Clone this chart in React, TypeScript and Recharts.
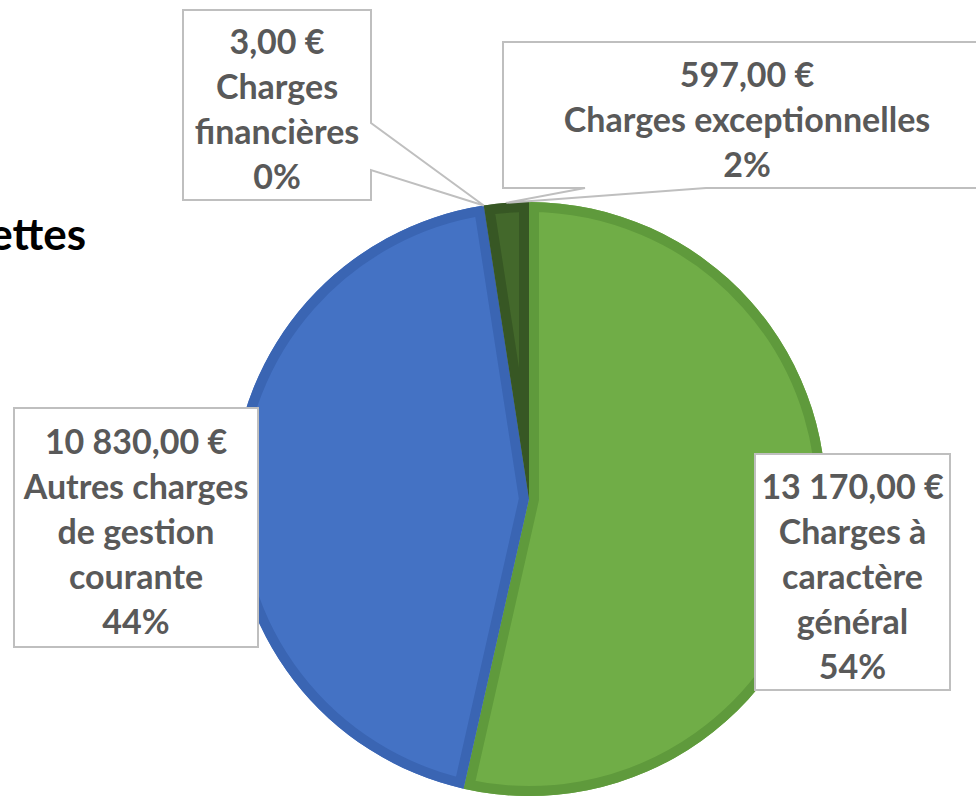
import { PieChart, Pie, Cell, Sector } from 'recharts';

const NAMES = [
  'Charges à caractère général',
  'Autres charges de gestion courante',
  'Charges financières',
  'Charges exceptionnelles',
];
const AMOUNTS = [13170, 10830, 3, 597];
const NAME_LINES = [
  ['Charges à', 'caractère', 'général'],
  ['Autres charges', 'de gestion', 'courante'],
  ['Charges', 'financières'],
  ['Charges exceptionnelles'],
];
const FILLS = ['#70AD47', '#4472C4', '#264478', '#43682B'];
const BORDERS = ['#5F9A3C', '#3A65B3', '#1F3A66', '#375724'];

// hand placed callout boxes, like the Excel original
const BOXES = [
  { x: 755, y: 454, w: 195, h: 236 },
  { x: 14, y: 408, w: 244, h: 239 },
  { x: 183, y: 10, w: 188, h: 190, pointer: 'right', p1: 123, p2: 170 },
  { x: 503, y: 42, w: 480, h: 146, pointer: 'bottom', p1: 585, p2: 706, tx: 747 },
];

const TEXT_COLOR = '#595959';
const FONT = 'Lato, "Open Sans", sans-serif';
const RAD = Math.PI / 180;
const LINE_H = 45;

const data = NAMES.map((name, i) => ({ name, value: AMOUNTS[i] }));

function euro(v: number) {
  const [int, dec] = v.toFixed(2).split('.');
  return int.replace(/\B(?=(\d{3})+(?!\d))/g, ' ') + ',' + dec + ' €';
}

function renderLabel(props: any) {
  const { cx, cy, outerRadius, startAngle, endAngle, midAngle, percent, value, index } = props;
  const box: any = BOXES[index];
  const tx = cx + outerRadius * Math.cos(-midAngle * RAD);
  const ty = cy + outerRadius * Math.sin(-midAngle * RAD);
  const { x, y, w, h } = box;

  let d = `M${x},${y} H${x + w} V${y + h} H${x} Z`;
  if (box.pointer === 'right') {
    d = `M${x},${y} H${x + w} V${box.p1} L${tx},${ty} L${x + w},${box.p2} V${y + h} H${x} Z`;
  } else if (box.pointer === 'bottom') {
    d = `M${x},${y} H${x + w} V${y + h} H${box.p2} L${tx},${ty} L${box.p1},${y + h} H${x} Z`;
  }

  const lines = [euro(value), ...NAME_LINES[index], `${Math.round(percent * 100)}%`];
  const first = y + h / 2 - ((lines.length - 1) * LINE_H) / 2 + 3;
  const textX = box.tx ?? x + w / 2;

  return (
    <g key={`lbl-${index}`}>
      <clipPath id={`sclip-${index}`}>
        <Sector cx={cx} cy={cy} innerRadius={0} outerRadius={outerRadius} startAngle={startAngle} endAngle={endAngle} />
      </clipPath>
      <Sector
        cx={cx}
        cy={cy}
        innerRadius={0}
        outerRadius={outerRadius}
        startAngle={startAngle}
        endAngle={endAngle}
        fill="none"
        stroke={BORDERS[index]}
        strokeWidth={20}
        clipPath={`url(#sclip-${index})`}
      />
      <path d={d} fill="#FFFFFF" stroke="#BFBFBF" strokeWidth={2} />
      {lines.map((t, i) => (
        <text
          key={i}
          x={textX}
          y={first + i * LINE_H}
          textAnchor="middle"
          dominantBaseline="central"
          fill={TEXT_COLOR}
          fontFamily={FONT}
          fontWeight={700}
          fontSize={34}
        >
          {t}
        </text>
      ))}
    </g>
  );
}

export default function App() {
  return (
    <div style={{ position: 'absolute', left: 0, top: 0, width: 976, height: 798, background: '#FFFFFF', overflow: 'hidden' }}>
      <svg width={976} height={798} style={{ position: 'absolute', left: 0, top: 0 }}>
        <text x={86} y={250} textAnchor="end" fill="#000000" fontFamily={FONT} fontWeight={700} fontSize={44}>
          Recettes
        </text>
      </svg>
      <div style={{ position: 'absolute', left: 0, top: 0 }}>
        <PieChart width={976} height={798} margin={{ top: 0, right: 0, bottom: 0, left: 0 }}>
          <Pie
            data={data}
            dataKey="value"
            nameKey="name"
            cx={529}
            cy={499}
            outerRadius={297}
            startAngle={90}
            endAngle={-270}
            stroke="none"
            label={renderLabel}
            labelLine={false}
            isAnimationActive={false}
          >
            {data.map((d, i) => (
              <Cell key={d.name} fill={FILLS[i]} />
            ))}
          </Pie>
        </PieChart>
      </div>
    </div>
  );
}
